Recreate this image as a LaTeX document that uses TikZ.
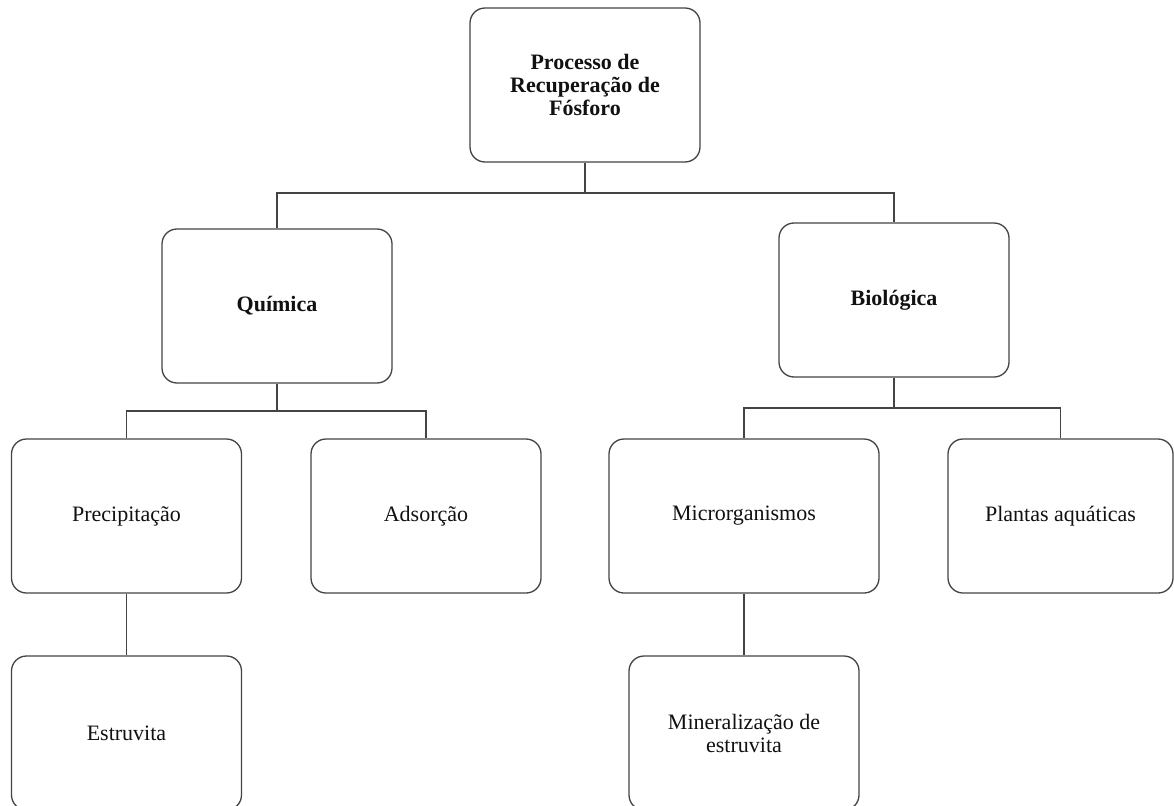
\documentclass[tikz,border=0pt]{standalone}
\usepackage{fontspec}
\setmainfont{Liberation Serif}
\usepackage{xcolor}
\usepackage{tikz}
\definecolor{edge}{HTML}{444444}
\definecolor{ink}{HTML}{111111}
\tikzset{
  box/.style={draw=edge, line width=1.3pt, rounded corners=15pt, fill=white,
    minimum width=230pt, minimum height=154pt, inner sep=0pt,
    align=center, text=ink, font=\fontsize{22}{23}\selectfont},
  headbox/.style={box, font=\fontsize{22}{23}\selectfont\bfseries},
  link/.style={draw=edge, line width=1.3pt}
}
\begin{document}
\begin{tikzpicture}[x=1pt, y=-1pt]
  \useasboundingbox (0,0) rectangle (1174,805);

  % top level
  \node[headbox] (proc) at (585,85) {Processo de\\Recuperação de\\Fósforo};

  % branches
  \node[headbox] (quim) at (277,306) {Química};
  \node[headbox] (bio) at (894,300) {Biológica};

  % leaves
  \node[box] (prec) at (126.5,516) {Precipitação};
  \node[box] (adso) at (426,516) {Adsorção};
  \node[box, minimum width=270pt] (micro) at (744,516) {Microrganismos};
  \node[box, minimum width=225pt] (plant) at (1060.5,516) {Plantas aquáticas};
  \node[box] (estr) at (126.5,733) {Estruvita};
  \node[box] (miner) at (744,733) {Mineralização de\\estruvita};

  \coordinate (busA) at (585,193);
  \coordinate (busB) at (277,411);
  \coordinate (busC) at (894,408);

  \draw[link] (proc.south) -- (busA) -| (quim.north);
  \draw[link] (busA) -| (bio.north);
  \draw[link] (quim.south) -- (busB) -| (prec.north);
  \draw[link] (busB) -| (adso.north);
  \draw[link] (bio.south) -- (busC) -| (micro.north);
  \draw[link] (busC) -| (plant.north);
  \draw[link] (prec.south) -- (estr.north);
  \draw[link] (micro.south) -- (miner.north);
\end{tikzpicture}
\end{document}
